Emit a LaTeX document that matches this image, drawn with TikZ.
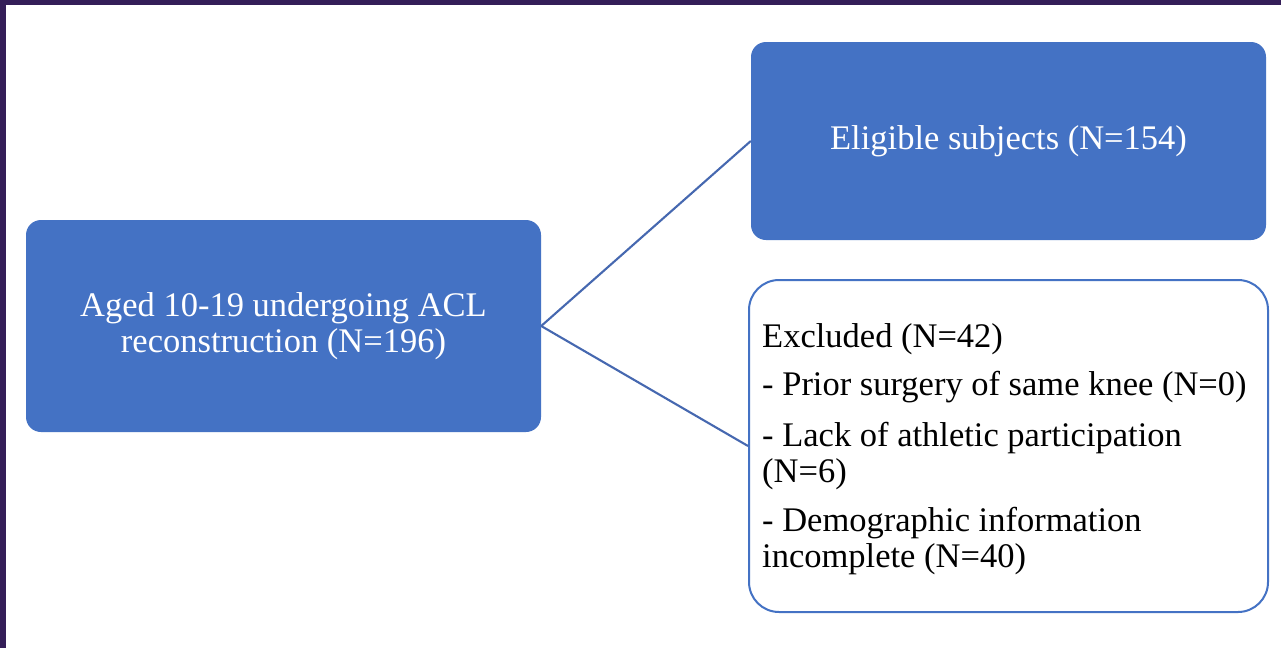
\documentclass[tikz,border=0pt]{standalone}
\usepackage{fontspec}
\setmainfont{Liberation Serif}
\definecolor{boxblue}{RGB}{68,114,196}
\definecolor{lineblue}{RGB}{70,104,176}
\definecolor{frame}{RGB}{52,30,88}
\begin{document}
\begin{tikzpicture}[x=1pt,y=-1pt,
  bluebox/.style={draw=none,fill=boxblue,rounded corners=15pt,text=white,align=center,inner sep=0pt},
  outlinebox/.style={draw=boxblue,line width=2pt,fill=white,rounded corners=30pt,align=left,inner sep=0pt,text=black},
  connector/.style={draw=lineblue,line width=2.1pt},
  txt/.style={font=\fontsize{34.5}{36.5}\selectfont}]
\useasboundingbox (0,0) rectangle (1281,648);
\fill[white] (0,0) rectangle (1281,648);
\fill[frame] (0,0) rectangle (1281,5);
\fill[frame] (0,0) rectangle (6,648);
\node[bluebox,txt,minimum width=515pt,minimum height=212pt] (a) at (283.5,326) {Aged 10-19 undergoing ACL\\reconstruction (N=196)};
\node[bluebox,txt,minimum width=515pt,minimum height=198pt] (b) at (1008.5,141) {Eligible subjects (N=154)};
\node[outlinebox,minimum width=519pt,minimum height=332pt] (c) at (1008.5,446) {};
\node[txt,align=left,anchor=west,inner sep=0pt] (ct) at (762,449) {Excluded (N=42)\\[12pt]- Prior surgery of same knee (N=0)\\[14pt]- Lack of athletic participation\\(N=6)\\[12pt]- Demographic information\\incomplete (N=40)};
\draw[connector] (a.east) -- (b.west);
\draw[connector] (a.east) -- (c.west);
\end{tikzpicture}
\end{document}
